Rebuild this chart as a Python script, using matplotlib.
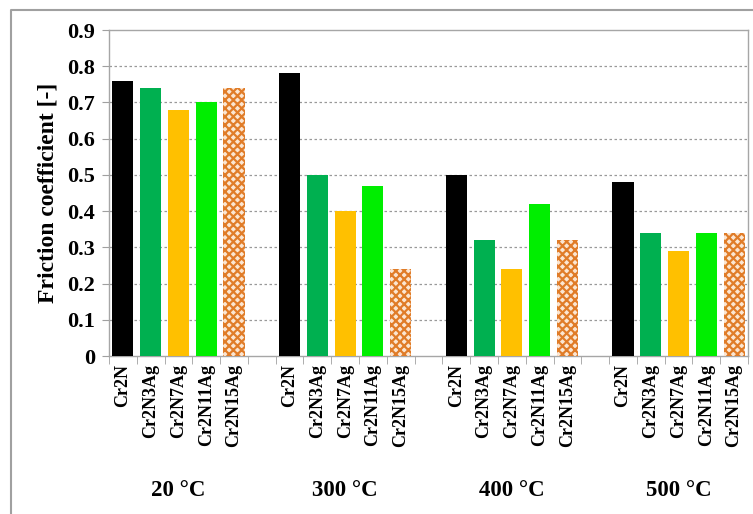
import numpy as np
import matplotlib.pyplot as plt
from matplotlib.lines import Line2D
from matplotlib import transforms

temps = ["20 °C", "300 °C", "400 °C", "500 °C"]
coatings = ["Cr2N", "Cr2N3Ag", "Cr2N7Ag", "Cr2N11Ag", "Cr2N15Ag"]
cr2n = [0.76, 0.78, 0.50, 0.48]
cr2n3ag = [0.74, 0.50, 0.32, 0.34]
cr2n7ag = [0.68, 0.40, 0.24, 0.29]
cr2n11ag = [0.70, 0.47, 0.42, 0.34]
cr2n15ag = [0.74, 0.24, 0.32, 0.34]
yticks = [0, 0.1, 0.2, 0.3, 0.4, 0.5, 0.6, 0.7, 0.8, 0.9]

series = [cr2n, cr2n3ag, cr2n7ag, cr2n11ag, cr2n15ag]
colors = ["#000000", "#00B050", "#FFC000", "#00EE00", "#F3C9A2"]

plt.rcParams['font.family'] = ['Liberation Serif', 'DejaVu Serif']
plt.rcParams['font.weight'] = 'bold'
plt.rcParams['hatch.linewidth'] = 1.6

fig = plt.figure(figsize=(7.53, 5.14), dpi=100)
ax = fig.add_axes([109/753, 1-356/514, (748-109)/753, (356-30)/514])

w = 0.76
centers = []
labels = []
for g in range(len(temps)):
    for i, s in enumerate(series):
        x = g*6 + i
        centers.append(x)
        labels.append(coatings[i])
        if i == 4:
            ax.bar(x, s[g], width=w, color="#FBE6D2", edgecolor="#E07C28",
                   linewidth=0, hatch="xxxx", zorder=3)
        else:
            ax.bar(x, s[g], width=w, color=colors[i], zorder=3)

ax.set_xlim(-0.5, 22.5)
ax.set_ylim(0, 0.9)
ax.set_yticks(yticks)
ax.set_yticklabels([("%g" % v) for v in yticks], fontsize=16, fontweight='bold')
for v in yticks[1:-1]:
    ax.axhline(v, color="#999999", lw=0.9, ls=(0, (2, 2)), zorder=1)

ax.set_xticks(centers)
ax.set_xticklabels(labels, rotation=90, fontsize=13, fontweight='bold')
ax.tick_params(axis='x', which='major', length=0, pad=6)
ax.set_xticks(np.arange(-0.5, 23, 1), minor=True)
ax.tick_params(axis='x', which='minor', length=6, color="#A0A0A0", direction='out')
ax.tick_params(axis='y', length=5, color="#A0A0A0", pad=5)

for sp in ax.spines.values():
    sp.set_color("#A6A6A6")
    sp.set_linewidth(1.0)

ax.set_ylabel("Friction coefficient [-]", fontsize=17, fontweight='bold', labelpad=6)

trans = transforms.blended_transform_factory(ax.transData, fig.transFigure)
for g, t in enumerate(temps):
    ax.text(g*6 + 2, 1-491/514, t, transform=trans, ha='center', va='center',
            fontsize=16.5, fontweight='bold')

# outer frame (top and left edges)
fig.add_artist(Line2D([11/753, 11/753, 1.0], [0.0, 1-10/514, 1-10/514],
                      transform=fig.transFigure, color="#A0A0A0", lw=1.5))

fig.savefig("out.png", dpi=100)
